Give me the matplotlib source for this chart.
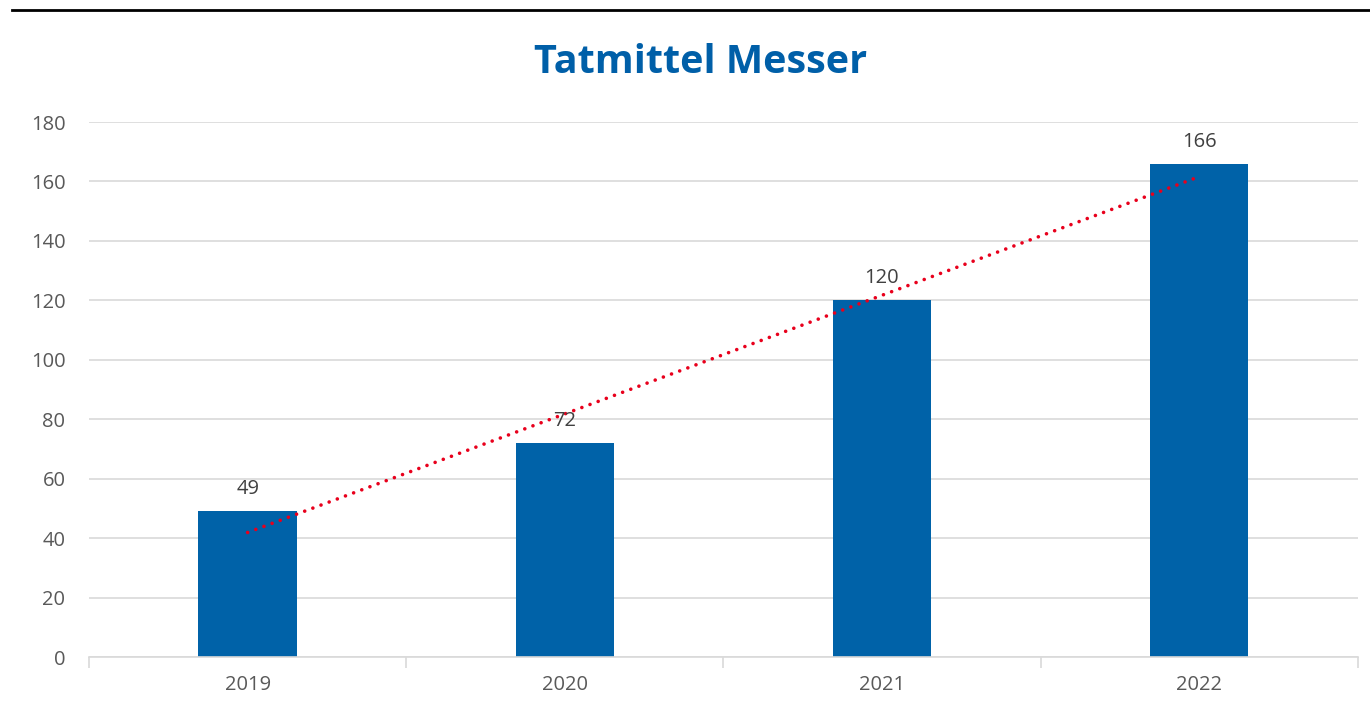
import numpy as np
import matplotlib.pyplot as plt
from matplotlib.lines import Line2D

years = ["2019", "2020", "2021", "2022"]
counts = [49, 72, 120, 166]

plt.rcParams['font.family'] = ['Open Sans', 'DejaVu Sans']

fig = plt.figure(figsize=(13.7, 7.14), dpi=100)
ax = fig.add_axes([0.065, 0.0798, 0.926, 0.7493])

x = np.arange(len(years))
ax.bar(x, counts, width=0.31, color='#0062A8', zorder=2)

for xi, v in zip(x, counts):
    ax.text(xi, v + 4, str(v), ha='center', va='bottom', fontsize=14.5, color='#404040', zorder=4)

# linear trendline
k, d = np.polyfit(x, counts, 1)
ax.plot(x, k * x + d, color='#E8001C', linestyle=(0, (0.01, 2.4)), linewidth=2.6,
        dash_capstyle='round', zorder=3)

ax.set_xlim(-0.5, 3.5)
ax.set_ylim(0, 180)
ax.set_yticks(range(0, 181, 20))
ax.set_xticks(x)
ax.set_xticklabels(years)
ax.yaxis.grid(True, color='#D9D9D9', linewidth=1.2, zorder=0)
ax.set_axisbelow(True)
for s in ['top', 'right', 'left']:
    ax.spines[s].set_visible(False)
ax.spines['bottom'].set_color('#D9D9D9')
ax.spines['bottom'].set_linewidth(1.2)
ax.tick_params(axis='y', length=0, labelsize=14.5, labelcolor='#595959', pad=17)
ax.tick_params(axis='x', length=0, labelsize=14.5, labelcolor='#595959', pad=13)
ax.set_xticks(np.arange(-0.5, 4, 1), minor=True)
ax.tick_params(axis='x', which='minor', length=8, color='#D9D9D9', width=1.2)

fig.text(0.511, 0.912, "Tatmittel Messer", ha='center', va='center', fontsize=28.5,
         fontweight='bold', color='#005FA8')

fig.add_artist(Line2D([12 / 1370, 1.0], [1 - 10 / 714, 1 - 10 / 714], color='black', linewidth=2))

fig.savefig('out.png', dpi=100)
